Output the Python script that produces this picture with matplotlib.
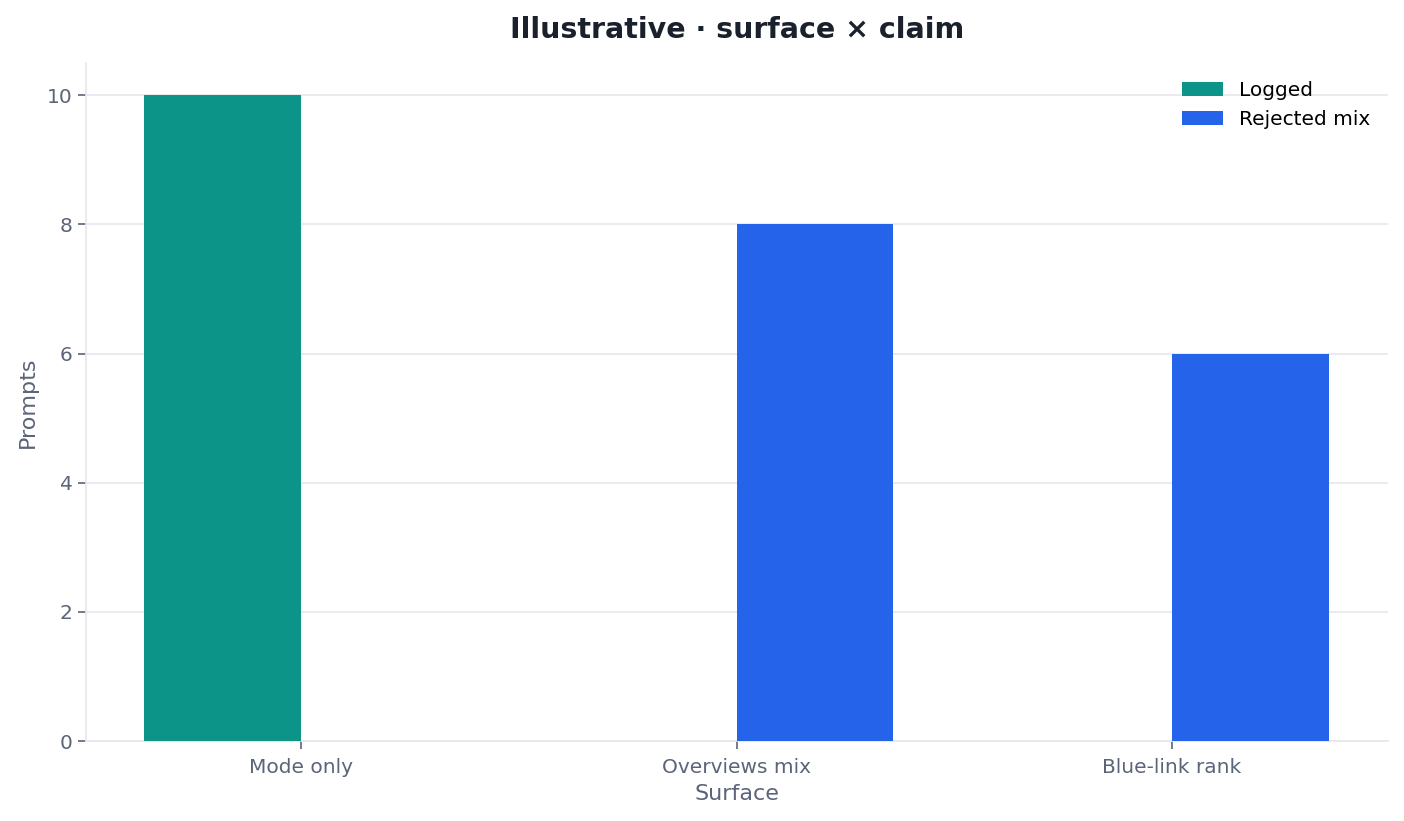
import matplotlib
matplotlib.use("Agg")
import matplotlib.pyplot as plt
import numpy as np

categories = ["Mode only", "Overviews mix", "Blue-link rank"]
series_names = ["Logged", "Rejected mix"]
logged = [10, 0, 0]
rejected = [0, 8, 6]
colors = ["#0d9488", "#2563eb"]

text_col = "#5b6478"
grid_col = "#e5e7eb"

plt.rcParams['font.family'] = ['DejaVu Sans']
fig = plt.figure(figsize=(14.04, 8.21), dpi=100)
ax = fig.add_axes([0.0613, 0.0974, 0.9273, 0.8259])

x = np.arange(len(categories))
w = 0.36
ax.bar(x - w / 2, logged, width=w, color=colors[0], label=series_names[0], zorder=3)
ax.bar(x + w / 2, rejected, width=w, color=colors[1], label=series_names[1], zorder=3)

ax.set_xlim(-0.494, 2.496)
ax.set_ylim(0, 10.5)
ax.set_xticks(x)
ax.set_xticklabels(categories)
ax.set_yticks([0, 2, 4, 6, 8, 10])
ax.yaxis.grid(True, color=grid_col, linewidth=1.2, zorder=0)
ax.set_axisbelow(True)
for s in ["top", "right"]:
    ax.spines[s].set_visible(False)
for s in ["left", "bottom"]:
    ax.spines[s].set_color(grid_col)
    ax.spines[s].set_linewidth(1.2)
ax.tick_params(axis="both", colors=text_col, labelsize=14.5, length=6, width=1.2)
ax.tick_params(axis="x", pad=6)

ax.set_xlabel("Surface", fontsize=16, color=text_col, labelpad=5)
ax.set_ylabel("Prompts", fontsize=16, color=text_col, labelpad=7)
ax.set_title("Illustrative · surface × claim", fontsize=20.5, fontweight="bold",
             color="#1a202c", pad=18)

leg = ax.legend(loc="upper right", frameon=False, fontsize=14.5,
                handlelength=2.0, handleheight=0.7, borderaxespad=0.5)

fig.savefig("out.png", dpi=100)
